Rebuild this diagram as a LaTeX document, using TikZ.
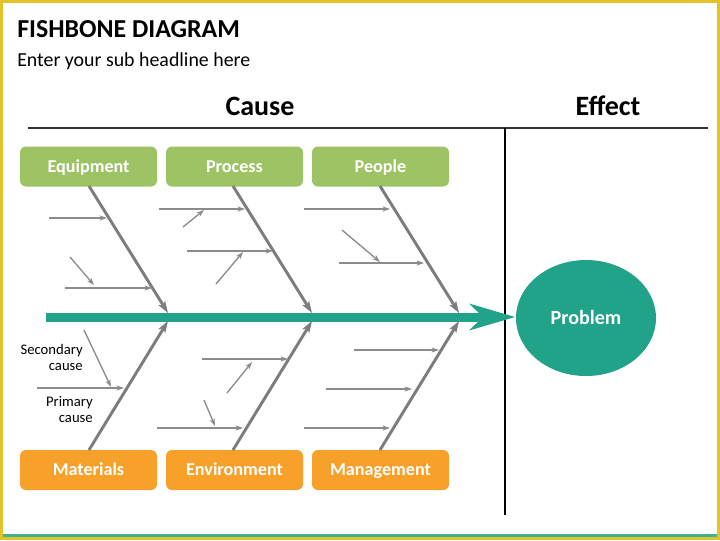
\documentclass[tikz,border=0pt]{standalone}
\usepackage{fontspec}
\setmainfont{Carlito}
\usetikzlibrary{arrows.meta,shapes.geometric}
\definecolor{boxgreen}{RGB}{157,195,100}
\definecolor{boxorange}{RGB}{247,160,42}
\definecolor{fishteal}{RGB}{33,163,138}
\definecolor{bonegray}{RGB}{125,125,125}
\definecolor{subgray}{RGB}{140,140,140}
\definecolor{frameyellow}{RGB}{226,195,40}
\definecolor{lineteal}{RGB}{60,178,150}
\newcommand\subarr[3]{\coordinate (#1s) at (#2); \coordinate (#1e) at (#3); \draw[subarrow] (#1s) -- (#1e);}
\tikzset{
  catbox/.style={rounded corners=4.5pt, minimum width=102.75pt, minimum height=30pt, inner sep=0pt,
    text=white, font=\fontsize{13.6}{16}\selectfont\bfseries, text height=8.8pt, text depth=0pt},
  topbox/.style={catbox, fill=boxgreen},
  botbox/.style={catbox, fill=boxorange},
  bone/.style={draw=bonegray, line width=2.2pt, -{Stealth[length=9pt,width=6pt,inset=2.5pt]}},
  subarrow/.style={draw=subgray, line width=1pt, -{Stealth[length=5.5pt,width=3.8pt,inset=1.5pt]}},
  smalllabel/.style={inner sep=0pt, font=\fontsize{11}{13}\selectfont, text=black},
}
\begin{document}
\begin{tikzpicture}[x=0.75pt,y=-0.75pt]
\useasboundingbox (0,0) rectangle (720,540);
% frame
\fill[frameyellow] (0,0) rectangle (720,540);
\fill[white] (3,3) rectangle (716.5,536.5);
\fill[lineteal] (3,533.5) rectangle (716.5,536.5);
% titles
\node[anchor=base west, inner sep=0pt, font=\fontsize{19.4}{22}\selectfont\bfseries] (title) at (17,37) {FISHBONE DIAGRAM};
\node[anchor=base west, inner sep=0pt, font=\fontsize{14.9}{17}\selectfont] (subtitle) at (17,66) {Enter your sub headline here};
\node[anchor=base, inner sep=0pt, font=\fontsize{21}{24}\selectfont\bfseries] (cause) at (260,115) {Cause};
\node[anchor=base, inner sep=0pt, font=\fontsize{21}{24}\selectfont\bfseries] (effect) at (608,115) {Effect};
% separators
\coordinate (hl) at (28,128); \coordinate (hr) at (708,128);
\draw[line width=1.1pt, black!80] (hl) -- (hr);
\coordinate (vt) at (505,128); \coordinate (vb) at (505,515);
\draw[line width=0.9pt, black] (vt) -- (vb);
% boxes
\node[topbox] (equip) at (88.5,166.5) {Equipment};
\node[topbox] (process) at (234.5,166.5) {Process};
\node[topbox] (people) at (380.5,166.5) {People};
\node[botbox] (mat) at (88.5,470) {Materials};
\node[botbox] (env) at (234.5,470) {Environment};
\node[botbox] (mgmt) at (380.5,470) {Management};
% problem
\node[ellipse, fill=fishteal, minimum width=105pt, minimum height=87pt, inner sep=0pt, text=white,
  font=\fontsize{15.1}{17}\selectfont\bfseries, text height=9.7pt, text depth=0pt] (problem) at (586,318) {Problem};
% spine
\coordinate (spL) at (46,317); \coordinate (spN) at (483,317);
\draw[fishteal, line width=6.75pt] (spL) -- (spN);
\fill[fishteal] (469,303.5) -- (515,317) -- (469,330.5) -- (483,317) -- cycle;
% bones
\coordinate (j1t) at (168,313); \coordinate (j2t) at (312,313); \coordinate (j3t) at (459,313);
\coordinate (j1b) at (168,321); \coordinate (j2b) at (312,321); \coordinate (j3b) at (459,321);
\draw[bone] (89,186) -- (j1t);
\draw[bone] (233,186) -- (j2t);
\draw[bone] (380,186) -- (j3t);
\draw[bone] (89,450) -- (j1b);
\draw[bone] (233,450) -- (j2b);
\draw[bone] (380,450) -- (j3b);
% sub arrows
\subarr{e1}{49,218}{107,218}
\subarr{e2}{65,288}{152,288}
\subarr{e3}{70,257}{94,285}
\subarr{p1}{159,209}{245,209}
\subarr{p2}{183,227}{204,210}
\subarr{p3}{187,251}{273,251}
\subarr{p4}{216,284}{243,252}
\subarr{q1}{304,209}{390,209}
\subarr{q2}{342,230}{380,262}
\subarr{q3}{339,263}{424,263}
\subarr{m1}{84,330}{111,387}
\subarr{m2}{37,388}{124,388}
\subarr{v1}{202,359}{288,359}
\subarr{v2}{227,393}{252,362}
\subarr{v3}{157,428}{243,428}
\subarr{v4}{204,400}{215,426}
\subarr{g1}{354,350}{439,350}
\subarr{g2}{326,389}{412,389}
\subarr{g3}{304,428}{390,428}
% labels
\node[smalllabel, anchor=base east] (sec1) at (83,354) {Secondary};
\node[smalllabel, anchor=base east] (sec2) at (83,370) {cause};
\node[smalllabel, anchor=base east] (pri1) at (93,406) {Primary};
\node[smalllabel, anchor=base east] (pri2) at (93,422) {cause};
\end{tikzpicture}
\end{document}
